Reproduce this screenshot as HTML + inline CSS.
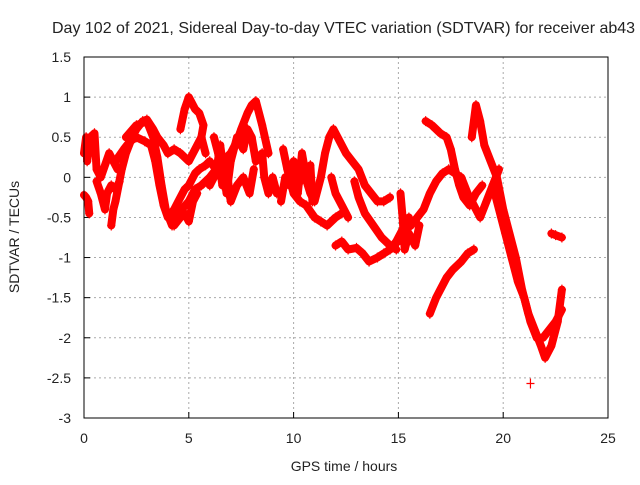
<!DOCTYPE html>
<html><head><meta charset="utf-8"><style>
body{margin:0;background:#fff;}
svg text{font-family:"Liberation Sans",sans-serif;font-size:14px;fill:#222;}
</style></head><body>
<svg id="chart" width="640" height="480">
<text x="52" y="33" style="font-size:16px">Day 102 of 2021, Sidereal Day-to-day VTEC variation (SDTVAR) for receiver ab43</text>
<text x="344" y="471" text-anchor="middle">GPS time / hours</text>
<text transform="translate(19,237) rotate(-90)" text-anchor="middle">SDTVAR / TECUs</text>
<g id="grid"></g><g id="series"></g>
<rect x="84" y="57" width="524" height="361" fill="none" stroke="#000"/>
</svg>
<script>
const xTicks=[0,5,10,15,20,25];
const yTicks=[1.5,1,0.5,0,-0.5,-1,-1.5,-2,-2.5,-3];
const track1=[[0,-0.22],[0.1,-0.25],[0.2,-0.3],[0.25,-0.45]];
const track2=[[0,0.3],[0.1,0.5],[0.15,0.2],[0.3,0.5],[0.5,0.55],[0.6,0.1],[0.8,0.0],[1.0,0.15],[1.2,0.3],[1.4,0.2],[1.6,0.1]];
const track2b=[[0.6,-0.05],[0.8,-0.2],[1.0,-0.4],[1.1,-0.2],[1.3,-0.1],[1.5,-0.15],[1.7,-0.05]];
const track3=[[1.3,-0.6],[1.4,-0.4],[1.5,-0.3],[1.8,0.1],[2.0,0.3],[2.3,0.5],[2.5,0.6],[2.8,0.7],[3.0,0.72],[3.3,0.6],[3.5,0.5],[3.8,0.4],[4.0,0.3],[4.3,0.35],[4.6,0.3],[5.0,0.2],[5.3,0.35],[5.6,0.5]];
const track4=[[1.5,0.2],[1.9,0.35],[2.2,0.45],[2.5,0.5],[2.9,0.45],[3.2,0.4],[3.4,0.2],[3.6,-0.1],[3.8,-0.35],[4.0,-0.5],[4.3,-0.4],[4.5,-0.3],[4.8,-0.15],[5.0,-0.1],[5.3,0.05],[5.5,0.1],[5.8,0.15],[6.0,0.2],[6.3,0.1],[6.6,0.0]];
const track4b=[[4.3,-0.6],[4.6,-0.5],[4.8,-0.45],[5.0,-0.55],[5.2,-0.3],[5.4,-0.2]];
const track5=[[4.6,0.6],[4.8,0.85],[5.0,1.0],[5.1,0.95],[5.3,0.85],[5.5,0.8],[5.7,0.65],[5.6,0.5],[5.8,0.3]];
const track6=[[2.0,0.5],[2.5,0.65],[3.0,0.7],[3.3,0.5],[3.5,0.25],[3.7,-0.1],[3.9,-0.4],[4.2,-0.6],[4.5,-0.45],[5.0,-0.3],[5.3,-0.15],[5.6,-0.1],[6.0,0.0],[6.3,0.1],[6.6,0.2],[7.0,0.3],[7.3,0.45],[7.5,0.6],[7.8,0.8],[8.0,0.9],[8.2,0.95],[8.5,0.65],[8.8,0.3]];
const track7=[[6.0,-0.1],[6.3,0.05],[6.5,0.4],[6.6,0.2],[6.8,-0.2],[7.0,0.2],[7.3,0.5],[7.6,0.35],[7.8,0.6],[8.0,0.5],[8.2,0.2],[8.5,0.3],[8.6,0.0],[8.8,-0.2],[9.0,0.0],[9.2,-0.2]];
const track7b=[[6.2,0.5],[6.4,0.3],[6.6,-0.1],[6.8,0.1],[7.0,-0.3],[7.3,-0.1],[7.6,0.0],[7.9,-0.2],[8.1,0.1]];
const track8=[[9.5,0.35],[9.7,0.1],[10.0,-0.2],[10.3,-0.3],[10.6,-0.35],[11.0,-0.5],[11.3,-0.55],[11.6,-0.6],[12.0,-0.5],[12.3,-0.45]];
const track8b=[[9.4,-0.3],[9.6,0.0],[9.8,-0.1],[10.0,0.2],[10.2,-0.2],[10.4,0.3],[10.6,0.0],[10.8,0.15],[10.9,-0.3]];
const track9=[[9.8,0.0],[10.2,-0.1],[10.5,0.05],[10.8,-0.2],[11.0,-0.3],[11.3,0.0],[11.5,0.3],[11.7,0.5],[11.9,0.6],[12.2,0.45],[12.5,0.3],[12.8,0.2],[13.1,0.1],[13.4,-0.1],[13.7,-0.2],[14.0,-0.3],[14.3,-0.3],[14.6,-0.25]];
const track9b=[[11.8,0.0],[12.0,-0.2],[12.3,-0.35],[12.6,-0.5]];
const track9c=[[12.9,-0.05],[13.1,-0.25],[13.4,-0.45],[13.8,-0.6],[14.2,-0.75],[14.6,-0.85],[14.9,-0.9]];
const track10=[[12.0,-0.85],[12.3,-0.8],[12.6,-0.9],[13.0,-0.88],[13.3,-0.95],[13.6,-1.05],[14.0,-1.0],[14.3,-0.95],[14.6,-0.9],[14.9,-0.8],[15.2,-0.65],[15.5,-0.5]];
const track10b=[[15.1,-0.2],[15.2,-0.5],[15.3,-0.9],[15.5,-0.7],[15.8,-0.85],[16.0,-0.6]];
const track11=[[15.0,-0.8],[15.3,-0.65],[15.6,-0.6],[15.9,-0.5],[16.2,-0.4],[16.5,-0.2],[16.8,-0.05],[17.1,0.05],[17.4,0.1],[17.7,0.05],[18.0,0.0],[18.3,-0.2],[18.6,-0.35],[18.9,-0.5],[19.2,-0.3],[19.5,-0.1],[19.8,0.1]];
const track12=[[16.3,0.7],[16.6,0.65],[17.0,0.55],[17.3,0.5],[17.5,0.35],[17.7,0.1],[17.9,-0.1],[18.1,-0.25],[18.4,-0.35],[18.7,-0.2],[19.0,-0.1]];
const track13=[[16.5,-1.7],[16.8,-1.5],[17.0,-1.4],[17.3,-1.25],[17.6,-1.15],[18.0,-1.05],[18.3,-0.95],[18.6,-0.9]];
const track14=[[18.5,0.5],[18.7,0.9],[18.9,0.7],[19.1,0.4],[19.4,0.2],[19.7,0.0],[20.0,-0.4],[20.3,-0.7],[20.6,-1.0],[20.9,-1.4],[21.2,-1.7],[21.5,-1.9],[21.8,-2.1],[22.0,-2.25],[22.3,-2.1],[22.6,-1.8],[22.8,-1.4]];
const track15=[[19.5,-0.1],[19.8,-0.4],[20.1,-0.7],[20.4,-1.0],[20.7,-1.3],[21.0,-1.5],[21.3,-1.8],[21.6,-2.0],[21.9,-2.0],[22.2,-1.9],[22.5,-1.8],[22.8,-1.65]];
const track16=[[22.3,-0.7],[22.5,-0.72],[22.8,-0.75]];
const track17=[[21.3,-2.57]];
const tracks=[track1,track2,track2b,track3,track4,track4b,track5,track6,track7,track7b,track8,track8b,track9,track9b,track9c,track10,track10b,track11,track12,track13,track14,track15,track16,track17];
const X0=84,X1=608,Y0=418,Y1=57;
const sx=t=>X0+(t-0)/(25-0)*(X1-X0);
const sy=v=>Y0-(v+3)/(4.5)*(Y0-Y1);
const NS='http://www.w3.org/2000/svg';
const svg=document.getElementById('chart'),grid=document.getElementById('grid'),ser=document.getElementById('series');
function mk(tag,attrs,parent){const e=document.createElementNS(NS,tag);for(const k in attrs)e.setAttribute(k,attrs[k]);parent.appendChild(e);return e;}
xTicks.forEach(t=>{const x=sx(t);
 if(t>0&&t<25){const l=mk('line',{x1:x,x2:x,y1:Y1,y2:Y0,stroke:'#aaa','stroke-dasharray':'2,3'},grid);
 
 }
 mk('line',{x1:x,x2:x,y1:Y0,y2:Y0-6,stroke:'#000'},grid);
 const tx=mk('text',{x:x,y:443,'text-anchor':'middle'},svg);tx.textContent=t;
 
 });
yTicks.forEach(v=>{const y=sy(v);
 if(v<1.5&&v>-3){const l=mk('line',{x1:X0,x2:X1,y1:y,y2:y,stroke:'#aaa','stroke-dasharray':'2,3'},grid);
 
 }
 mk('line',{x1:X0,x2:X0+6,y1:y,y2:y,stroke:'#000'},grid);
 const tx=mk('text',{x:71,y:y+5,'text-anchor':'end'},svg);tx.textContent=v;
 
 });
tracks.forEach(tr=>{
 if(tr.length>1){const p=mk('polyline',{points:tr.map(d=>sx(d[0])+','+sy(d[1])).join(' '),fill:'none',stroke:'#f00','stroke-width':8,'stroke-linejoin':'round','stroke-linecap':'round'},ser);
 
 }
 tr.forEach(d=>{const x=sx(d[0]),y=sy(d[1]);
 const m=mk('path',{d:`M${x-4},${y}h8M${x},${y-5}v10`,stroke:'#f00','stroke-width':1.2},ser);
 
 });
});
</script>
</body></html>
